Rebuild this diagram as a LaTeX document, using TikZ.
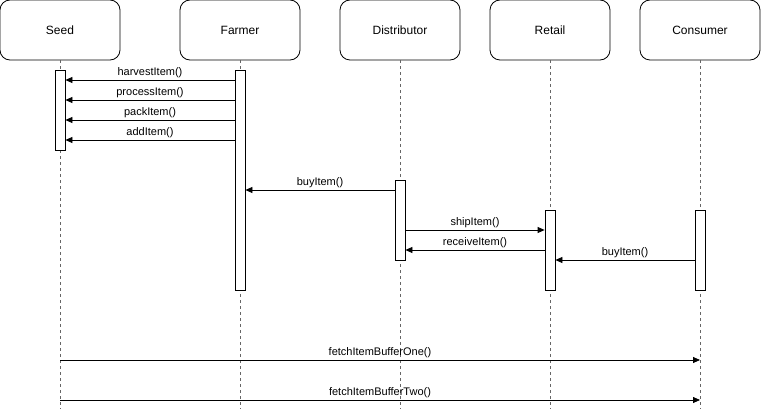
\documentclass[tikz,border=0pt]{standalone}
\usepackage{fontspec}
\setmainfont{Liberation Sans}
\usetikzlibrary{arrows.meta}
\begin{document}
\begin{tikzpicture}[x=1pt,y=-1pt,
  actor/.style={draw,rounded corners=10pt,line width=0.8pt,minimum width=120pt,minimum height=60pt,font=\fontsize{12}{14}\selectfont,inner sep=0pt},
  lifeline/.style={draw=black!60,dashed,dash pattern=on 3pt off 3pt,line width=0.8pt},
  actbar/.style={draw,fill=white,line width=0.8pt,minimum width=10pt,inner sep=0pt},
  msg/.style={-{Triangle[length=7pt,width=6pt]},line width=0.8pt},
  lbl/.style={font=\fontsize{11}{13}\selectfont,inner sep=0pt}]
\useasboundingbox (0,0) rectangle (761,409);
% participants
\node[actor] (seed) at (60,30) {Seed};
\node[actor] (farmer) at (240,30) {Farmer};
\node[actor] (dist) at (400,30) {Distributor};
\node[actor] (retail) at (550,30) {Retail};
\node[actor] (cons) at (700,30) {Consumer};
% lifeline ends
\coordinate (seedE) at (60,409);
\coordinate (farmerE) at (240,409);
\coordinate (distE) at (400,409);
\coordinate (retailE) at (550,409);
\coordinate (consE) at (700,409);
\draw[lifeline] (seed.south) -- (seedE);
\draw[lifeline] (farmer.south) -- (farmerE);
\draw[lifeline] (dist.south) -- (distE);
\draw[lifeline] (retail.south) -- (retailE);
\draw[lifeline] (cons.south) -- (consE);
% activation bars
\node[actbar,minimum height=80pt] (seedA) at (60,110) {};
\node[actbar,minimum height=220pt] (farmerA) at (240,180) {};
\node[actbar,minimum height=80pt] (distA) at (400,220) {};
\node[actbar,minimum height=80pt] (retailA) at (550,250) {};
\node[actbar,minimum height=80pt] (consA) at (700,250) {};
% Farmer -> Seed
\foreach \yy/\txt in {80/harvestItem(),100/processItem(),120/packItem(),140/addItem()}{
  \draw[msg] (farmerA.west |- 0,\yy) -- node[lbl,above=2pt] {\txt} (seedA.east |- 0,\yy);
}
% Distributor -> Farmer
\draw[msg] (distA.west |- 0,190) -- node[lbl,above=2pt] {buyItem()} (farmerA.east |- 0,190);
% Distributor <-> Retail
\draw[msg] (distA.east |- 0,230) -- node[lbl,above=2pt] {shipItem()} (retailA.west |- 0,230);
\draw[msg] (retailA.west |- 0,250) -- node[lbl,above=2pt] {receiveItem()} (distA.east |- 0,250);
% Consumer -> Retail
\draw[msg] (consA.west |- 0,260) -- node[lbl,above=2pt] {buyItem()} (retailA.east |- 0,260);
% Seed -> Consumer
\draw[msg] (seed.south |- 0,360) -- node[lbl,above=2pt] {fetchItemBufferOne()} (cons.south |- 0,360);
\draw[msg] (seed.south |- 0,400) -- node[lbl,above=2pt] {fetchItemBufferTwo()} (cons.south |- 0,400);
\end{tikzpicture}
\end{document}
